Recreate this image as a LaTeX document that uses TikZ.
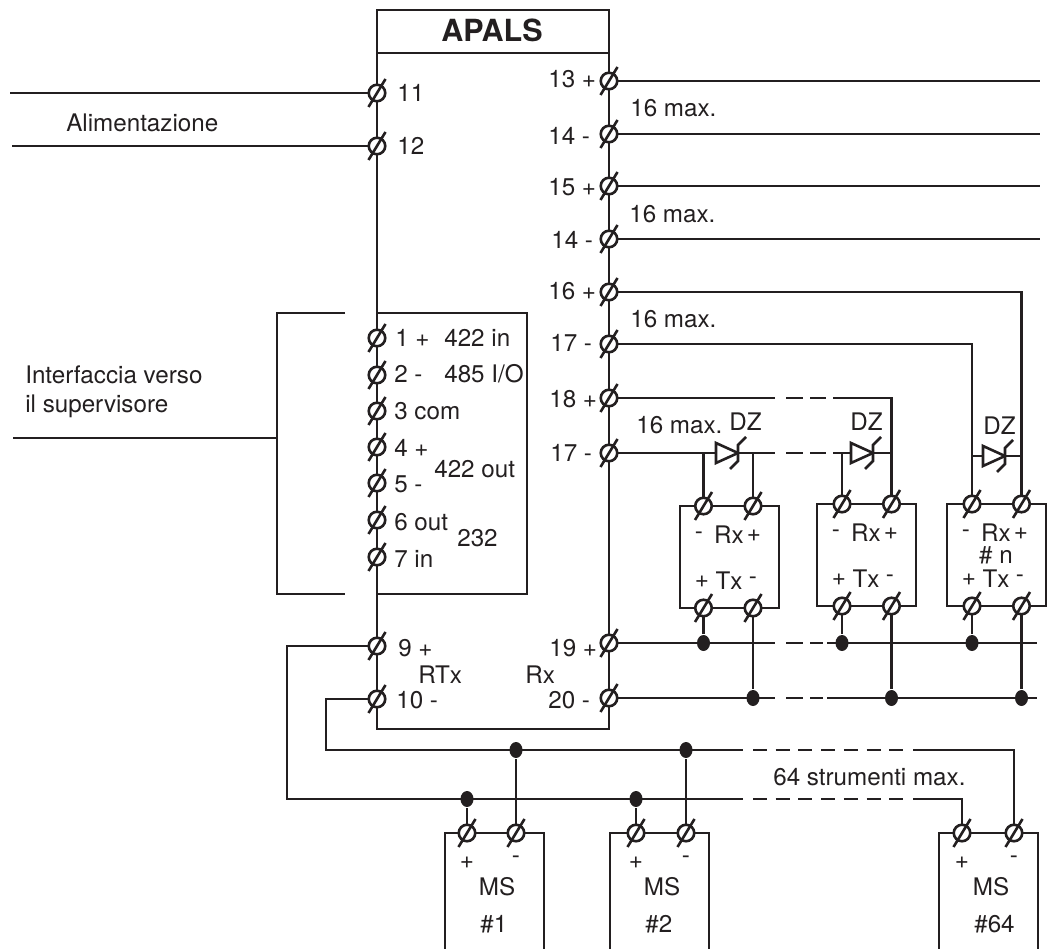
\documentclass[tikz,border=0pt]{standalone}
\usepackage{fontspec}
\setmainfont{TeX Gyre Heros}
\usepackage{xcolor}
\definecolor{INKCOLOR}{HTML}{231F20}
\usetikzlibrary{shapes,positioning,calc}
\tikzset{
  box-style/.style = {
    rectangle, draw, anchor=north west, inner sep=0pt, outer sep=0pt
  },
  term-style/.style = {
    circle, draw, fill=white, minimum size=16.5pt, inner sep=0pt, outer sep=0pt
  },
  dot-style/.style = {
    ellipse, fill=INKCOLOR, minimum width=13pt, minimum height=16pt, inner sep=0pt
  },
  lbl-style/.style = {
    anchor=base west, inner sep=0pt
  },
  mid-style/.style = {
    anchor=base, inner sep=0pt
  },
  small-style/.style = {
    anchor=center, inner sep=0pt
  },
  dash-style/.style = {
    dash pattern=on 17pt off 7pt
  },
  longdash-style/.style = {
    dash pattern=on 14pt off 8.7pt
  }
}
\newcommand\createTerm[2]{
  \node[term-style] (#1) at #2 {};
  \draw ([shift={(-8.5,14)}]#1.center) -- ([shift={(8.5,-14)}]#1.center);
}
\newcommand\createDiode[2]{
  \coordinate (#1) at #2;
  \draw[fill=white,line join=miter] ([shift={(-22,-10)}]#1) -- ([shift={(-22,10)}]#1) -- (#1) -- cycle;
  \draw ([shift={(8,-16)}]#1) -- ([shift={(0,-8)}]#1) -- ([shift={(0,8)}]#1) -- ([shift={(-8,16)}]#1);
}
\newcommand\createRx[4]{
  \node[box-style,minimum width=99pt,minimum height=102pt] (#1) at (#2,#3) {};
  \createTerm{#1m}{($(#1.north west)+(#4,0)$)}
  \createTerm{#1p}{($(#1.north west)+(#4+49.5,0)$)}
  \createTerm{#1a}{($(#1.south west)+(#4,0)$)}
  \createTerm{#1b}{($(#1.south west)+(#4+49.5,0)$)}
  \node[small-style] (#1minus) at ($(#1.north west)+(19,30)$) {-};
  \node[small-style] (#1rx) at ($(#1.north west)+(49,29)$) {Rx};
  \node[small-style] (#1plus) at ($(#1.north west)+(74,30)$) {+};
  \node[small-style] (#1plusb) at ($(#1.north west)+(22,76)$) {+};
  \node[small-style] (#1tx) at ($(#1.north west)+(49,75)$) {Tx};
  \node[small-style] (#1minusb) at ($(#1.north west)+(73,75)$) {-};
}
\newcommand\createMS[5]{
  \coordinate (#1nw) at (#2,833);
  \coordinate (#1ne) at (#2+99,833);
  \coordinate (#1sw) at (#2,949);
  \coordinate (#1se) at (#2+99,949);
  \draw (#1sw) -- (#1nw) -- (#1ne) -- (#1se);
  \createTerm{#1p}{(#3,833)}
  \createTerm{#1m}{(#4,833)}
  \node[small-style] (#1plus) at (#3,863) {+};
  \node[small-style] (#1minus) at (#4,860) {-};
  \node[mid-style] (#1name) at (#2+52,895) {MS};
  \node[lbl-style] (#1num) at (#2+34,932) {#5};
}

\begin{document}
\begin{tikzpicture}[x=1pt,y=-1pt,line width=2.6pt,color=INKCOLOR,font=\fontsize{24.2}{29}\selectfont]
    \useasboundingbox (0,0) rectangle (1053,949);

    %%% main boxes
    \node[box-style,minimum width=232pt,minimum height=719pt] (apals) at (377,10) {};
    \node[box-style,minimum width=232pt,minimum height=43pt] (title) at (apals.north west) {};
    \node[anchor=base,inner sep=0pt,font=\bfseries\fontsize{30.5}{36}\selectfont] (titleText) at (492,42) {APALS};
    \node[box-style,minimum width=150pt,minimum height=281pt] (iface) at (377,313) {};

    %%% terminals
    \createTerm{t11}{(377,93)}
    \createTerm{t12}{(377,146)}
    \foreach \n/\y in {1/338,2/375,3/411,4/447,5/483,6/520,7/557,9/646,10/699} {
      \createTerm{t\n}{(377,\y)}
    }
    \createTerm{t13}{(609,81)}
    \createTerm{t14}{(609,134)}
    \createTerm{t15}{(609,186)}
    \createTerm{t14b}{(609,239)}
    \createTerm{t16}{(609,292)}
    \createTerm{t17}{(609,344)}
    \createTerm{t18}{(609,398)}
    \createTerm{t17b}{(609,453)}
    \createTerm{t19}{(609,643)}
    \createTerm{t20}{(609,698)}

    %%% left side
    \coordinate (e11) at (10,93);
    \coordinate (e12) at (12,146);
    \draw (e11) -- (t11);
    \draw (e12) -- (t12);
    \node[lbl-style] (alim) at (65,132) {Alimentazione};
    \coordinate (brTop) at (345,313);
    \coordinate (brTopL) at (277,313);
    \coordinate (brBot) at (345,594);
    \coordinate (brBotL) at (277,594);
    \coordinate (brMid) at (277,438);
    \coordinate (brEnd) at (13,438);
    \draw (brTop) -- (brTopL) -- (brBotL) -- (brBot);
    \draw (brMid) -- (brEnd);
    \node[lbl-style] (sup1) at (24,384) {Interfaccia verso};
    \node[lbl-style] (sup2) at (24,413) {il supervisore};

    %%% labels of the box
    \node[lbl-style] (l11) at (396,102) {11};
    \node[lbl-style] (l12) at (396,155) {12};
    \node[lbl-style] (l1) at (394,347) {1 +};
    \node[lbl-style] (in422) at (443,347) {422 in};
    \node[lbl-style] (l2) at (393,383) {2 -};
    \node[lbl-style] (io485) at (443,383) {485 I/O};
    \node[lbl-style] (l3) at (393,420) {3 com};
    \node[lbl-style] (l4) at (393,457) {4 +};
    \node[lbl-style] (out422) at (433,478) {422 out};
    \node[lbl-style] (l5) at (393,493) {5 -};
    \node[lbl-style] (l6) at (393,530) {6 out};
    \node[lbl-style] (l232) at (456,547) {232};
    \node[lbl-style] (l7) at (393,567) {7 in};
    \node[lbl-style] (l9) at (397,656) {9 +};
    \node[lbl-style] (rtx) at (417,683) {RTx};
    \node[lbl-style] (rx) at (524,683) {Rx};
    \node[lbl-style] (l10) at (395,708) {10 -};
    \node[lbl-style] (l13) at (547,88) {13 +};
    \node[lbl-style] (l14) at (547,145) {14 -};
    \node[lbl-style] (l15) at (547,196) {15 +};
    \node[lbl-style] (l14b) at (550,249) {14 -};
    \node[lbl-style] (l16) at (547,300) {16 +};
    \node[lbl-style] (l17) at (549,352) {17 -};
    \node[lbl-style] (l18) at (548,408) {18 +};
    \node[lbl-style] (l17b) at (549,462) {17 -};
    \node[lbl-style] (l19) at (548,656) {19 +};
    \node[lbl-style] (l20) at (547,708) {20 -};

    %%% outputs
    \foreach \t/\y in {t13/81,t14/134,t15/186,t14b/239} {
      \coordinate (e\t) at (1040,\y);
      \draw (\t) -- (e\t);
    }
    \node[lbl-style] (maxA) at (629,117) {16 max.};
    \node[lbl-style] (maxB) at (628,223) {16 max.};
    \node[lbl-style] (maxC) at (629,328) {16 max.};
    \node[lbl-style] (maxD) at (635,434) {16 max.};

    %%% receivers
    \createRx{rxA}{680}{506}{23.5}
    \createRx{rxB}{817}{504}{25}
    \createRx{rxC}{947}{504}{25}
    \node[mid-style] (rxCn) at (996,563) {\# n};
    \draw (t16) -| (rxCp);
    \draw (t17) -| (rxCm);

    %%% line 18
    \coordinate (a18) at (775,398);
    \coordinate (b18) at (786,398);
    \coordinate (c18) at (826,398);
    \coordinate (d18) at (833,398);
    \draw (t18) -- (a18);
    \draw[dash-style] (b18) -- (c18);
    \draw (d18) -| (rxBp);

    %%% line 17 and diodes
    \coordinate (a17) at (775,453);
    \coordinate (b17) at (786,453);
    \coordinate (c17) at (826,453);
    \coordinate (d17) at (833,453);
    \draw (t17b) -- (a17);
    \draw[dash-style] (b17) -- (c17);
    \draw (d17) -- (rxBp |- d17);
    \draw (rxAm |- a17) -- (rxAm);
    \draw (rxAp |- a17) -- (rxAp);
    \draw (rxBm |- d17) -- (rxBm);
    \coordinate (jC) at (972,456);
    \draw (rxCm |- jC) -- (rxCp |- jC);
    \createDiode{dzA}{(738,453)}
    \createDiode{dzB}{(873,453)}
    \createDiode{dzC}{(1005,456)}
    \node[lbl-style] (lDzA) at (728,431) {DZ};
    \node[lbl-style] (lDzB) at (849,431) {DZ};
    \node[lbl-style] (lDzC) at (982,435) {DZ};

    %%% buses
    \coordinate (a19) at (775,643);
    \coordinate (b19) at (786,643);
    \coordinate (c19) at (823,643);
    \coordinate (d19) at (827,643);
    \coordinate (e19) at (1037,643);
    \coordinate (a20) at (775,698);
    \coordinate (b20) at (786,698);
    \coordinate (c20) at (823,698);
    \coordinate (d20) at (827,698);
    \coordinate (e20) at (1037,698);
    \draw (t19) -- (a19);
    \draw[dash-style] (b19) -- (c19);
    \draw (d19) -- (e19);
    \draw (t20) -- (a20);
    \draw[dash-style] (b20) -- (c20);
    \draw (d20) -- (e20);
    \node[dot-style] (dotA) at (rxAa |- t19) {};
    \node[dot-style] (dotB) at (rxBa |- t19) {};
    \node[dot-style] (dotC) at (rxCa |- t19) {};
    \node[dot-style] (dotD) at (rxAb |- t20) {};
    \node[dot-style] (dotE) at (rxBb |- t20) {};
    \node[dot-style] (dotF) at (rxCb |- t20) {};
    \draw (rxAa) -- (dotA);
    \draw (rxBa) -- (dotB);
    \draw (rxCa) -- (dotC);
    \draw (rxAb) -- (dotD);
    \draw (rxBb) -- (dotE);
    \draw (rxCb) -- (dotF);

    %%% instruments
    \createMS{msA}{445}{467}{516}{\#1}
    \createMS{msB}{610}{636}{686}{\#2}
    \createMS{msC}{939}{962}{1014}{\#64}
    \coordinate (wire10) at (326,750);
    \coordinate (wire9) at (287,799);
    \coordinate (a10) at (743,750);
    \coordinate (b10) at (753,750);
    \coordinate (c10) at (904,750);
    \coordinate (d10) at (913,750);
    \coordinate (a9) at (743,799);
    \coordinate (b9) at (753,799);
    \coordinate (c9) at (904,799);
    \coordinate (d9) at (913,799);
    \draw (t10) -| (wire10) -- (a10);
    \draw (t9) -| (wire9) -- (a9);
    \draw[longdash-style] (b10) -- (c10);
    \draw[longdash-style] (b9) -- (c9);
    \draw (d10) -| (msCm);
    \draw (d9) -| (msCp);
    \node[dot-style] (dotG) at (msAm |- wire10) {};
    \node[dot-style] (dotH) at (msBm |- wire10) {};
    \node[dot-style] (dotI) at (msAp |- wire9) {};
    \node[dot-style] (dotJ) at (msBp |- wire9) {};
    \draw (dotG) -- (msAm);
    \draw (dotH) -- (msBm);
    \draw (dotI) -- (msAp);
    \draw (dotJ) -- (msBp);
    \node[lbl-style] (lMax) at (772,785) {64 strumenti max.};
\end{tikzpicture}
\end{document}
